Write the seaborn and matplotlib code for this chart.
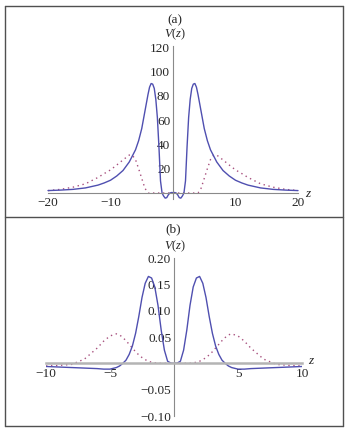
import numpy as np
import matplotlib
matplotlib.use("Agg")
import matplotlib.pyplot as plt
from matplotlib.lines import Line2D
from matplotlib.ticker import MultipleLocator, FixedLocator, FuncFormatter
import seaborn as sns

# ---------------- data ----------------
# panel (a)
z_a = [-20, -18, -16, -14, -12, -11, -10, -9, -8, -7, -6.5, -6, -5.5, -5, -4.5, -4,
       -3.75, -3.5, -3.25, -3, -2.75, -2.5, -2.25, -2, -1.75, -1.5, -1.25, -1, -0.75,
       -0.5, -0.25, 0, 0.25, 0.5, 0.75, 1, 1.25, 1.5, 1.75, 2, 2.25, 2.5, 2.75, 3,
       3.25, 3.5, 3.75, 4, 4.5, 5, 5.5, 6, 6.5, 7, 8, 9, 10, 11, 12, 14, 16, 18, 20]
v_a_solid = [2, 2.4, 3, 4.2, 6.5, 8.3, 10.5, 14, 18.5, 25.5, 30.5, 35.5, 43, 53, 67, 81,
             87, 90, 89.5, 86, 77, 62, 38, 10, 0, -2.5, -4.2, -3.8, -1.5,
             0, 0.4, 0.3, 0.4, 0, -1.5, -3.8, -4.2, -2.5, 0, 10, 38, 62, 77, 86,
             89.5, 90, 87, 81, 67, 53, 43, 35.5, 30.5, 25.5, 18.5, 14, 10.5, 8.3, 6.5, 4.2, 3, 2.4, 2]
v_a_dotted = [2, 3, 4.8, 7.6, 12.8, 16, 19, 23, 27.2, 31.2, 31, 27.5, 20, 12, 4, 0,
              0, 0, 0, 0, 0, 0, 0, 0, 0, 0, 0, 0, 0,
              0, 0, 0, 0, 0, 0, 0, 0, 0, 0, 0, 0, 0, 0, 0,
              0, 0, 0, 0, 4, 12, 20, 27.5, 31, 31.2, 27.2, 23, 19, 16, 12.8, 7.6, 4.8, 3, 2]

# panel (b)
z_b = [-10, -9, -8, -7, -6, -5.5, -5, -4.5, -4.25, -4, -3.75, -3.5, -3.25, -3, -2.75,
       -2.5, -2.25, -2, -1.75, -1.5, -1.25, -1, -0.75, -0.5, -0.25, 0, 0.25, 0.5, 0.75,
       1, 1.25, 1.5, 1.75, 2, 2.25, 2.5, 2.75, 3, 3.25, 3.5, 3.75, 4, 4.25, 4.5, 5,
       5.5, 6, 7, 8, 9, 10]
v_b_solid = [-0.006, -0.007, -0.008, -0.009, -0.010, -0.011, -0.011, -0.008, -0.005, 0.0, 0.006,
             0.017, 0.033, 0.057, 0.089, 0.125, 0.152, 0.165, 0.162, 0.145, 0.11, 0.063, 0.025,
             0.004, 0.0005, 0.0, 0.0005, 0.004, 0.025, 0.063, 0.11, 0.145, 0.162, 0.165, 0.152,
             0.125, 0.089, 0.057, 0.033, 0.017, 0.006, 0.0, -0.005, -0.008, -0.011, -0.011,
             -0.010, -0.009, -0.008, -0.007, -0.006]
v_b_dotted = [-0.005, -0.004, -0.002, 0.008, 0.029, 0.042, 0.052, 0.056, 0.054, 0.049, 0.043,
              0.036, 0.029, 0.022, 0.016, 0.011, 0.007, 0.004, 0.002, 0.001, 0.0, 0.0, 0.0,
              0.0, 0.0, 0.0, 0.0, 0.0, 0.0, 0.0, 0.0, 0.001, 0.002, 0.004, 0.007, 0.011,
              0.016, 0.022, 0.029, 0.036, 0.043, 0.049, 0.054, 0.056, 0.052, 0.042, 0.029,
              0.008, -0.002, -0.004, -0.005]

xt_a = [-20, -10, 10, 20]
yt_a = [20, 40, 60, 80, 100, 120]
xt_b = [-10, -5, 5, 10]
yt_b = [-0.10, -0.05, 0.05, 0.10, 0.15, 0.20]

# ---------------- style ----------------
sns.set_style("white")
plt.rcParams["font.family"] = ["Liberation Serif", "DejaVu Serif"]
plt.rcParams["mathtext.fontset"] = "custom"
plt.rcParams["mathtext.rm"] = "Liberation Serif"
plt.rcParams["mathtext.it"] = "Liberation Serif:italic"

BLUE = "#4f4fb0"
RED = "#a8507e"
AXC = "#8a8a8a"

fig = plt.figure(figsize=(3.5, 4.36), dpi=100)
W, H = 350, 436


def axes_px(left, right, top, bottom):
    return fig.add_axes([left / W, 1 - bottom / H, (right - left) / W, (bottom - top) / H])


ax1 = axes_px(48, 298, 45.8, 199.1)
ax2 = axes_px(46, 302, 258, 416)


def style_axes(ax, xlim, ylim, xt, yt, xminor, yminor, fmt, xaxis_lw=0.8, xaxis_c=AXC):
    ax.set_xlim(*xlim)
    ax.set_ylim(*ylim)
    for s in ["top", "right"]:
        ax.spines[s].set_visible(False)
    ax.spines["left"].set_position(("data", 0))
    ax.spines["bottom"].set_position(("data", 0))
    ax.spines["left"].set_color(AXC)
    ax.spines["left"].set_linewidth(0.8)
    ax.spines["bottom"].set_color(xaxis_c)
    ax.spines["bottom"].set_linewidth(xaxis_lw)
    ax.xaxis.set_major_locator(FixedLocator(xt))
    ax.yaxis.set_major_locator(FixedLocator(yt))
    ax.xaxis.set_minor_locator(MultipleLocator(xminor))
    ax.yaxis.set_minor_locator(MultipleLocator(yminor))
    ax.yaxis.set_major_formatter(FuncFormatter(fmt))
    ax.xaxis.set_major_formatter(FuncFormatter(lambda v, p: ("\u2212" if v < 0 else "") + f"{abs(v):g}"))
    ax.tick_params(which="major", direction="in", length=4, width=0.6, color=AXC,
                   labelsize=9.5, pad=2)
    ax.tick_params(which="minor", direction="in", length=2, width=0.5, color=AXC)
    ax.tick_params(axis="x", which="major", pad=3)
    ax.set_xlabel("")
    ax.set_ylabel("")
    ax.patch.set_alpha(0)


# panel (a)
sns.lineplot(x=z_a, y=v_a_dotted, ax=ax1, color=RED, linewidth=1.0,
             linestyle=(0, (1, 2.6)), sort=False, estimator=None)
sns.lineplot(x=z_a, y=v_a_solid, ax=ax1, color=BLUE, linewidth=1.0, sort=False, estimator=None)
style_axes(ax1, (-20, 20), (-5, 121), xt_a, yt_a, 2, 5, lambda v, p: f"{v:g}")
for l in ax1.lines:
    l.set_clip_on(False)

# panel (b)
sns.lineplot(x=z_b, y=v_b_dotted, ax=ax2, color=RED, linewidth=1.0,
             linestyle=(0, (1, 2.6)), sort=False, estimator=None)
sns.lineplot(x=z_b, y=v_b_solid, ax=ax2, color=BLUE, linewidth=1.0, sort=False, estimator=None)
style_axes(ax2, (-10, 10), (-0.1, 0.2), xt_b, yt_b, 1, 0.01,
           lambda v, p: ("\u2212" if v < 0 else "") + f"{abs(v):.2f}",
           xaxis_lw=1.8, xaxis_c="#b4b4b4")

# labels
fig.text(175 / W, 1 - 20 / H, "(a)", ha="center", va="center", fontsize=9.5)
fig.text(175 / W, 1 - 34 / H, r"$V(z)$", ha="center", va="center", fontsize=9)
fig.text(309 / W, 1 - 194 / H, r"$z$", ha="center", va="center", fontsize=9.5)
fig.text(173.5 / W, 1 - 229.5 / H, "(b)", ha="center", va="center", fontsize=9.5)
fig.text(175 / W, 1 - 246.5 / H, r"$V(z)$", ha="center", va="center", fontsize=9)
fig.text(311.5 / W, 1 - 361 / H, r"$z$", ha="center", va="center", fontsize=9.5)

# outer frame and divider
FC = "#505050"
L, R, T, B, D = 5 / W, 342.5 / W, 1 - 6 / H, 1 - 425.5 / H, 1 - 217 / H
for xs, ys in [([L, R], [T, T]), ([L, R], [B, B]), ([L, L], [B, T]), ([R, R], [B, T]), ([L, R], [D, D])]:
    fig.add_artist(Line2D(xs, ys, transform=fig.transFigure, color=FC, linewidth=1.0))

fig.savefig("out.png", dpi=100)
